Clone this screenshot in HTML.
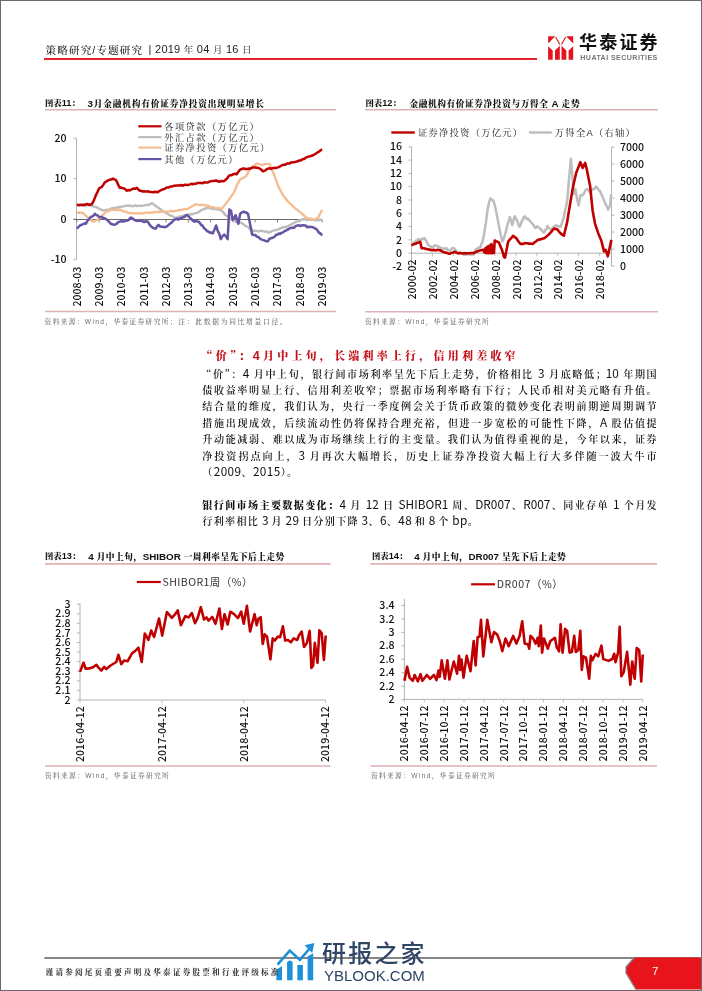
<!DOCTYPE html>
<html><head><meta charset="utf-8">
<style>
*{margin:0;padding:0;box-sizing:border-box}
html,body{width:702px;height:991px;overflow:hidden;background:#fff}
#pg{position:relative;width:702px;height:991px;background:#fff;overflow:hidden}
#bd{position:absolute;left:0;top:0;width:702px;height:991px;border-top:1px solid #6a6a6a;border-left:1.2px solid #6a6a6a;border-right:1.3px solid #6a6a6a;border-bottom:1.4px solid #6a6a6a;z-index:5;pointer-events:none}
svg{position:absolute;left:0;top:0}
.ax{font-family:'Noto Sans CJK SC',sans-serif;font-size:10.6px;font-weight:500;fill:#111}
.axx{font-family:'Noto Sans CJK SC',sans-serif;font-size:10.6px;font-weight:500;fill:#111}
.lg{font-family:'Liberation Sans','Noto Serif CJK SC',serif;font-size:9.3px;fill:#1a1a1a;letter-spacing:1.35px}
.lg2{font-family:'Noto Sans CJK SC',sans-serif;font-size:10.6px;fill:#333}
.t{position:absolute;white-space:nowrap;line-height:1}
.ct{position:absolute;white-space:nowrap;line-height:1;font-family:'Liberation Sans','Noto Serif CJK SC',serif;font-weight:900;font-size:8.4px;color:#111}
.cn{font-family:'Liberation Sans',sans-serif;font-size:9.2px;font-weight:bold}
.cl{font-family:'Liberation Sans',sans-serif;font-size:9.8px;font-weight:bold}
.cj{position:absolute;white-space:nowrap;line-height:1;font-family:'Liberation Sans','Noto Serif CJK SC',serif;font-weight:900;font-size:8.7px;color:#111;text-align:justify;text-align-last:justify}
.src{position:absolute;white-space:nowrap;line-height:1;font-family:'Liberation Sans','Noto Serif CJK SC',serif;font-size:6.7px;font-weight:500;color:#6e6e6e;letter-spacing:1.35px}
.bl{position:absolute;left:202.3px;width:454.4px;height:16px;white-space:nowrap;font-family:'Liberation Sans','Noto Serif CJK SC',serif;font-size:10.1px;line-height:16px;color:#111;font-weight:600;text-align:justify;text-align-last:justify}
.bl.last{text-align-last:left;letter-spacing:1.3px;word-spacing:-1.5px}
.bl.last .n{letter-spacing:0.4px}
.bl .n{line-height:10px;font-size:11.8px;font-family:'Noto Sans CJK SC',sans-serif;font-weight:400 !important}
.bl b{font-weight:900}
.q{font-family:'Noto Serif CJK SC',serif;font-feature-settings:'halt'}
.bl .n{font-weight:normal}
</style></head><body><div id="pg">
<svg width="702" height="991" viewBox="0 0 702 991">
<line x1="44" y1="59" x2="537" y2="59" stroke="#e3262b" stroke-width="1.8"/>
<g fill="#e4141c">
<path d="M548.1,36.2 L555.2,36.2 L548.1,43.6 Z"/>
<path d="M548.1,46.2 L552.7,50.4 L552.7,59.7 L548.1,59.7 Z"/>
<path d="M555,50.4 L559.8,45.8 L559.8,59.7 L555,59.7 Z"/>
<path d="M573.2,36.2 L566.1,36.2 L573.2,43.6 Z"/>
<path d="M573.2,46.2 L568.6,50.4 L568.6,59.7 L573.2,59.7 Z"/>
<path d="M566.3,50.4 L561.5,45.8 L561.5,59.7 L566.3,59.7 Z"/>
</g>
<g stroke="#d01a22" stroke-width="1.1" fill="none">
<line x1="555.6" y1="37" x2="559.8" y2="44.6"/>
<line x1="565.7" y1="37" x2="561.5" y2="44.6"/>
</g>
<line x1="45" y1="109.7" x2="336" y2="109.7" stroke="#dfb1b4" stroke-width="1.6"/>
<line x1="365" y1="109.7" x2="658" y2="109.7" stroke="#dfb1b4" stroke-width="1.6"/>
<line x1="45" y1="563.9" x2="330.6" y2="563.9" stroke="#dfb1b4" stroke-width="1.6"/>
<line x1="370.5" y1="563.9" x2="657" y2="563.9" stroke="#dfb1b4" stroke-width="1.6"/>
<line x1="45" y1="311.5" x2="336" y2="311.5" stroke="#dfb1b4" stroke-width="1.6"/>
<line x1="365" y1="311.8" x2="658" y2="311.8" stroke="#dfb1b4" stroke-width="1.6"/>
<line x1="45" y1="766" x2="330.6" y2="766" stroke="#dfb1b4" stroke-width="1.6"/>
<line x1="370.5" y1="766" x2="657" y2="766" stroke="#dfb1b4" stroke-width="1.6"/>
<line x1="76.5" y1="138.2" x2="76.5" y2="259.6" stroke="#b3b3b3" stroke-width="1"/>
<line x1="73.5" y1="138.2" x2="76.5" y2="138.2" stroke="#b3b3b3" stroke-width="1"/>
<text x="66.5" y="141.8" text-anchor="end" class="ax">20</text>
<line x1="73.5" y1="178.6" x2="76.5" y2="178.6" stroke="#b3b3b3" stroke-width="1"/>
<text x="66.5" y="182.2" text-anchor="end" class="ax">10</text>
<line x1="73.5" y1="219.1" x2="76.5" y2="219.1" stroke="#b3b3b3" stroke-width="1"/>
<text x="66.5" y="222.7" text-anchor="end" class="ax">0</text>
<line x1="73.5" y1="259.6" x2="76.5" y2="259.6" stroke="#b3b3b3" stroke-width="1"/>
<text x="66.5" y="263.2" text-anchor="end" class="ax">-10</text>
<line x1="73.5" y1="219.5" x2="322.1" y2="219.5" stroke="#6b6b62" stroke-width="1"/>
<line x1="76.8" y1="219.5" x2="76.8" y2="222.5" stroke="#6b6b62" stroke-width="0.8"/>
<text transform="translate(80.6,266.6) rotate(-90)" text-anchor="end" class="axx">2008-03</text>
<line x1="99.1" y1="219.5" x2="99.1" y2="222.5" stroke="#6b6b62" stroke-width="0.8"/>
<text transform="translate(102.9,266.6) rotate(-90)" text-anchor="end" class="axx">2009-03</text>
<line x1="121.4" y1="219.5" x2="121.4" y2="222.5" stroke="#6b6b62" stroke-width="0.8"/>
<text transform="translate(125.2,266.6) rotate(-90)" text-anchor="end" class="axx">2010-03</text>
<line x1="143.7" y1="219.5" x2="143.7" y2="222.5" stroke="#6b6b62" stroke-width="0.8"/>
<text transform="translate(147.5,266.6) rotate(-90)" text-anchor="end" class="axx">2011-03</text>
<line x1="166.0" y1="219.5" x2="166.0" y2="222.5" stroke="#6b6b62" stroke-width="0.8"/>
<text transform="translate(169.8,266.6) rotate(-90)" text-anchor="end" class="axx">2012-03</text>
<line x1="188.3" y1="219.5" x2="188.3" y2="222.5" stroke="#6b6b62" stroke-width="0.8"/>
<text transform="translate(192.1,266.6) rotate(-90)" text-anchor="end" class="axx">2013-03</text>
<line x1="210.6" y1="219.5" x2="210.6" y2="222.5" stroke="#6b6b62" stroke-width="0.8"/>
<text transform="translate(214.4,266.6) rotate(-90)" text-anchor="end" class="axx">2014-03</text>
<line x1="232.9" y1="219.5" x2="232.9" y2="222.5" stroke="#6b6b62" stroke-width="0.8"/>
<text transform="translate(236.7,266.6) rotate(-90)" text-anchor="end" class="axx">2015-03</text>
<line x1="255.2" y1="219.5" x2="255.2" y2="222.5" stroke="#6b6b62" stroke-width="0.8"/>
<text transform="translate(259.0,266.6) rotate(-90)" text-anchor="end" class="axx">2016-03</text>
<line x1="277.5" y1="219.5" x2="277.5" y2="222.5" stroke="#6b6b62" stroke-width="0.8"/>
<text transform="translate(281.3,266.6) rotate(-90)" text-anchor="end" class="axx">2017-03</text>
<line x1="299.8" y1="219.5" x2="299.8" y2="222.5" stroke="#6b6b62" stroke-width="0.8"/>
<text transform="translate(303.6,266.6) rotate(-90)" text-anchor="end" class="axx">2018-03</text>
<line x1="322.1" y1="219.5" x2="322.1" y2="222.5" stroke="#6b6b62" stroke-width="0.8"/>
<text transform="translate(325.9,266.6) rotate(-90)" text-anchor="end" class="axx">2019-03</text>
<polyline points="76.8,204.8 78.1,205.4 79.4,205.5 80.7,204.4 82.0,204.5 83.3,205.5 84.7,205.4 86.0,205.4 87.3,205.0 88.6,205.5 89.9,205.4 91.6,206.0 93.2,206.4 94.9,206.8 96.3,207.0 97.7,207.9 99.1,208.5 100.5,209.5 101.9,209.8 103.4,210.4 104.9,210.3 106.4,209.9 107.9,209.8 109.2,209.4 110.5,208.9 111.9,208.2 113.2,207.9 114.5,208.1 115.8,207.6 117.2,207.3 118.5,207.6 119.8,206.8 121.2,206.7 122.7,206.6 124.1,206.1 125.5,205.7 126.9,205.9 128.4,205.5 129.8,205.8 131.2,205.8 132.6,206.3 134.0,205.9 135.4,205.3 136.8,206.1 138.2,205.9 139.6,205.8 141.0,206.0 142.4,205.8 143.8,205.4 145.3,205.4 146.8,204.6 148.2,205.0 149.7,204.6 151.2,203.3 152.7,203.4 154.1,204.8 155.5,205.8 156.9,206.6 158.3,207.8 159.7,208.8 161.0,209.6 162.4,211.0 163.7,211.3 165.0,212.5 166.4,212.8 167.7,213.8 169.0,214.9 170.4,215.6 171.7,215.8 173.0,216.5 174.4,217.6 175.7,217.8 177.0,217.7 178.3,217.1 179.7,216.5 181.0,216.3 182.3,216.4 183.6,215.4 185.0,216.0 186.3,214.9 187.6,214.8 188.9,215.0 190.2,214.0 191.5,214.5 192.9,214.0 194.2,213.4 195.5,213.2 196.8,212.9 198.1,212.4 199.4,211.5 200.7,210.5 202.1,209.6 203.4,209.3 204.7,209.0 206.0,207.8 207.4,208.1 208.7,207.5 210.1,208.5 211.4,208.6 212.8,208.4 214.1,209.2 215.5,208.6 216.8,209.5 218.1,209.0 219.5,210.0 220.8,210.1 222.2,211.3 223.7,212.6 225.1,214.8 226.5,215.8 227.9,216.3 229.2,217.9 230.6,219.3 231.9,219.6 233.3,220.9 234.7,220.9 236.0,222.0 237.4,221.8 238.7,222.5 240.1,222.6 241.5,222.8 242.9,224.0 244.2,224.6 245.6,226.0 247.0,226.6 248.4,227.0 249.7,229.0 251.1,228.8 252.4,230.6 253.8,231.2 255.3,230.6 256.8,230.9 258.4,231.6 259.9,230.8 261.4,230.8 262.9,231.2 264.3,231.7 265.6,231.5 267.0,231.4 268.3,232.7 269.7,232.4 271.3,231.4 272.9,230.6 274.5,230.4 276.1,230.0 277.5,229.7 278.9,229.4 280.3,228.2 281.6,228.0 283.0,227.2 284.4,227.2 285.8,226.8 287.2,226.4 288.6,225.7 290.0,225.2 291.3,224.3 292.7,223.7 294.1,222.8 295.5,221.9 297.1,221.3 298.7,220.4 300.3,220.3 301.9,219.5 303.2,219.3 304.6,219.1 305.9,219.6 307.3,220.2 308.6,219.3 310.0,219.9 311.3,219.7 312.7,219.9 314.0,219.6 315.4,220.6 316.7,219.8 318.1,220.3 319.4,220.1 320.8,219.7 322.1,220.3" fill="none" stroke="#bdbdbd" stroke-width="2.4" stroke-linejoin="round"/>
<polyline points="76.8,212.8 78.3,212.6 79.8,212.8 81.4,212.7 82.9,212.8 84.4,214.4 85.9,215.8 87.2,217.2 88.6,218.1 89.9,219.7 91.4,220.4 92.9,221.7 94.4,221.4 95.9,220.7 97.2,219.6 98.6,218.6 99.9,217.8 101.4,216.6 102.9,214.8 104.4,213.5 105.9,211.8 107.4,211.3 108.9,210.9 110.4,210.1 111.9,209.8 113.2,209.9 114.5,210.1 115.8,209.8 117.2,210.0 118.5,209.9 119.8,209.8 121.1,210.0 122.5,211.0 123.8,211.4 125.1,211.7 126.5,212.0 127.8,212.8 129.1,213.1 130.5,212.9 131.8,213.2 133.1,213.3 134.5,213.3 135.8,213.5 137.1,213.2 138.5,213.5 139.8,213.4 141.1,213.3 142.5,213.5 143.8,213.3 145.1,212.7 146.4,212.6 147.8,212.6 149.1,213.0 150.4,212.5 151.7,212.5 153.1,212.2 154.4,212.2 155.7,212.0 157.0,211.9 158.4,212.0 159.7,211.8 161.0,211.8 162.4,211.9 163.7,211.7 165.0,211.8 166.4,211.6 167.7,211.6 169.0,211.3 170.4,210.9 171.7,211.3 173.0,211.3 174.4,211.2 175.7,210.8 177.0,210.6 178.3,210.5 179.7,209.9 181.0,210.1 182.3,209.7 183.6,209.3 185.0,208.9 186.3,209.3 187.6,208.8 188.9,208.4 190.3,207.0 191.6,206.8 193.0,205.8 194.3,204.9 195.7,204.4 197.1,204.4 198.5,204.9 200.0,205.1 201.4,204.6 202.8,205.2 204.2,204.9 205.7,205.5 207.1,205.5 208.5,205.8 209.9,206.6 211.4,207.1 212.8,207.2 214.3,207.5 215.8,208.1 217.4,207.9 218.9,208.0 220.4,208.7 221.9,208.9 223.3,206.7 224.8,205.0 226.2,203.3 227.6,201.5 229.0,199.6 230.4,197.3 231.9,195.3 233.3,193.6 234.8,190.4 236.4,186.6 237.9,183.3 240.1,179.3 241.5,178.9 242.9,178.2 244.4,177.1 245.8,176.5 247.6,173.3 249.3,170.2 250.8,168.7 252.3,167.2 253.8,165.6 255.5,164.6 257.2,163.4 258.7,164.0 260.3,164.6 261.8,165.1 263.5,164.8 265.2,163.9 266.7,163.9 268.2,163.9 269.7,163.9 271.3,168.1 272.9,171.9 274.5,176.0 276.1,180.4 277.7,184.8 279.3,188.4 281.0,191.3 282.6,194.5 284.2,196.7 285.8,198.5 287.4,201.0 288.7,202.2 290.0,203.6 291.3,204.5 292.6,206.2 293.9,207.4 295.5,208.7 297.1,209.5 298.7,211.2 300.3,212.3 301.6,213.4 302.9,214.7 304.2,215.6 305.5,216.9 306.8,217.9 308.4,218.5 310.0,218.4 311.6,218.8 313.2,219.5 314.8,219.1 316.5,218.8 318.1,217.9 319.4,215.0 320.8,212.5 322.1,209.8" fill="none" stroke="#f5bd92" stroke-width="2.4" stroke-linejoin="round"/>
<polyline points="76.8,228.7 78.5,226.9 80.2,225.3 81.9,224.7 83.2,224.2 84.6,223.4 85.9,223.7 87.6,220.6 89.2,218.9 90.9,216.8 92.2,216.6 93.6,215.3 94.9,213.8 96.2,215.3 97.6,215.3 98.9,216.8 100.2,217.2 101.6,217.1 102.9,217.8 104.4,218.2 105.9,219.0 107.4,220.2 108.9,221.7 110.5,223.5 112.2,224.3 113.8,224.7 115.3,224.5 116.8,223.7 118.3,221.9 119.8,221.7 121.3,221.1 122.8,221.4 124.3,221.4 125.8,220.7 127.3,220.6 128.8,219.9 130.3,217.8 131.8,217.8 133.8,219.4 135.7,220.6 137.1,220.9 138.4,220.7 139.8,220.7 141.3,220.6 142.7,221.6 144.2,222.1 146.0,221.2 147.8,221.7 149.5,224.5 151.1,226.4 152.8,227.8 154.2,228.3 155.7,228.7 157.1,226.4 158.5,224.9 160.1,226.5 161.7,226.7 163.0,226.7 164.3,227.2 165.7,227.0 167.0,226.3 168.4,225.1 169.9,223.8 171.3,222.9 172.7,221.4 174.2,219.8 175.6,219.2 177.1,218.7 178.6,219.6 180.2,218.1 181.7,218.8 183.0,217.0 184.3,217.1 185.7,215.5 187.0,214.9 188.4,216.4 189.8,217.7 191.3,218.9 192.7,220.6 194.3,221.8 195.9,220.8 197.5,221.5 199.1,222.0 201.2,224.9 202.7,225.9 204.1,228.3 205.6,229.2 207.1,231.2 208.5,231.5 209.9,232.7 211.4,232.5 212.8,233.4 214.5,229.6 216.2,225.5 217.7,230.8 219.3,233.8 220.8,239.1 222.5,236.1 224.2,234.6 225.9,236.4 227.6,239.1 229.3,209.5 231.0,210.7 232.7,219.8 234.1,218.0 235.6,215.2 237.0,219.7 238.4,223.8 240.1,214.0 241.8,212.4 243.6,211.8 245.1,212.2 246.6,212.7 248.1,214.0 250.4,225.5 252.1,234.6 253.7,235.1 255.2,234.9 256.8,236.7 258.4,236.9 259.8,238.5 261.2,239.4 262.7,239.9 264.1,240.3 266.5,241.3 268.0,241.2 269.5,238.6 271.0,238.2 272.5,237.7 274.3,237.1 276.1,234.8 277.5,234.7 278.9,233.5 280.3,233.9 281.6,232.7 283.0,232.5 284.4,231.0 285.8,230.8 287.1,229.6 288.4,229.4 289.7,228.2 291.0,228.0 292.3,227.6 293.7,228.1 295.0,226.6 296.4,225.7 297.8,225.4 299.2,225.3 300.5,226.1 301.9,225.2 303.2,225.3 304.5,225.5 305.8,225.4 307.1,227.3 308.4,226.8 310.0,227.1 311.6,227.1 313.2,227.2 314.8,228.4 316.3,229.0 317.7,230.7 319.2,233.0 320.6,233.5 322.1,235.6" fill="none" stroke="#6753a3" stroke-width="2.5" stroke-linejoin="round"/>
<polyline points="76.8,204.8 78.2,204.9 79.5,204.9 80.9,204.9 82.3,205.0 83.7,204.7 85.0,204.9 86.4,204.0 87.8,204.3 89.2,204.7 90.5,204.4 91.9,204.2 93.4,201.4 94.9,197.8 96.2,194.5 97.6,191.8 98.9,188.8 100.4,187.6 101.9,186.8 103.4,184.6 104.9,182.3 106.2,181.7 107.6,180.6 108.9,180.1 110.2,179.6 111.6,179.5 112.9,178.5 114.3,179.4 115.8,179.9 117.1,182.2 118.5,185.4 119.8,187.8 121.1,187.6 122.5,188.2 123.8,188.2 125.3,189.2 126.8,190.8 128.1,190.0 129.5,190.5 130.8,189.8 132.3,189.0 133.8,188.5 135.3,188.7 136.8,187.8 138.3,189.6 139.8,190.8 141.3,190.8 142.8,191.5 144.3,191.3 145.8,191.4 147.1,191.6 148.4,191.3 149.8,192.1 151.1,191.9 152.4,192.3 153.7,192.3 155.1,191.8 156.4,192.0 157.7,192.2 159.0,191.2 160.4,190.5 161.7,189.8 163.0,189.4 164.4,189.0 165.7,188.2 167.0,187.4 168.4,187.6 169.7,186.9 171.0,186.4 172.4,186.5 173.7,185.8 175.1,185.7 176.6,185.5 178.0,185.5 179.4,185.6 180.8,185.0 182.3,185.7 183.7,185.2 185.3,184.6 186.8,185.0 188.4,184.9 190.0,184.4 191.4,183.8 192.8,184.3 194.3,183.8 195.7,183.8 197.1,183.1 198.6,183.0 200.0,183.0 201.4,183.1 202.8,183.2 204.2,182.3 205.7,182.5 207.1,182.4 208.5,182.2 210.0,181.4 211.4,181.1 212.8,181.0 214.5,180.8 216.2,180.5 218.5,181.6 219.9,181.7 221.3,180.9 222.8,181.4 224.2,181.0 225.6,179.8 227.1,178.5 228.5,176.3 229.9,175.3 231.6,175.2 233.3,174.2 235.0,173.8 236.7,174.2 238.4,171.8 240.1,169.6 241.8,169.0 243.6,168.3 245.3,169.1 247.0,169.1 248.4,168.6 249.7,168.8 251.1,168.1 252.4,167.6 253.8,167.4 255.2,167.5 256.6,167.7 258.1,167.8 259.5,168.5 261.2,169.6 262.9,171.3 264.2,170.8 265.5,170.4 266.8,169.0 268.1,168.7 269.4,168.2 270.8,168.9 272.1,168.3 273.4,168.1 274.8,167.8 276.1,167.9 277.5,167.5 278.8,167.1 280.1,166.3 281.5,165.7 282.9,164.8 284.2,164.7 285.6,164.7 286.9,163.5 288.2,163.5 289.6,163.4 290.9,162.4 292.3,162.3 293.6,162.2 295.0,162.1 296.3,161.6 297.6,161.4 299.0,160.5 300.3,160.6 301.6,159.9 303.0,159.0 304.4,158.9 305.7,157.7 307.0,157.2 308.4,156.6 310.0,156.4 311.6,155.7 313.2,155.2 314.8,154.2 316.3,153.2 317.7,152.3 319.2,151.5 320.6,150.3 322.1,149.4" fill="none" stroke="#c00000" stroke-width="2.5" stroke-linejoin="round"/>
<line x1="138.3" y1="126.3" x2="161.5" y2="126.3" stroke="#c00000" stroke-width="2.2"/>
<text x="164.3" y="129.9" class="lg">各项贷款（万亿元）</text>
<line x1="138.3" y1="137.1" x2="161.5" y2="137.1" stroke="#bdbdbd" stroke-width="2.2"/>
<text x="164.3" y="140.7" class="lg">外汇占款（万亿元）</text>
<line x1="138.3" y1="147.6" x2="161.5" y2="147.6" stroke="#f5bd92" stroke-width="2.2"/>
<text x="164.3" y="151.2" class="lg">证券净投资（万亿元）</text>
<line x1="138.3" y1="159.1" x2="161.5" y2="159.1" stroke="#6753a3" stroke-width="2.2"/>
<text x="164.3" y="162.7" class="lg">其他（万亿元）</text>
<line x1="411.5" y1="146.8" x2="411.5" y2="266.5" stroke="#b3b3b3" stroke-width="1"/>
<line x1="408.5" y1="146.8" x2="411.5" y2="146.8" stroke="#b3b3b3" stroke-width="1"/>
<text x="402" y="150.4" text-anchor="end" class="ax">16</text>
<line x1="408.5" y1="160.1" x2="411.5" y2="160.1" stroke="#b3b3b3" stroke-width="1"/>
<text x="402" y="163.7" text-anchor="end" class="ax">14</text>
<line x1="408.5" y1="173.4" x2="411.5" y2="173.4" stroke="#b3b3b3" stroke-width="1"/>
<text x="402" y="177.0" text-anchor="end" class="ax">12</text>
<line x1="408.5" y1="186.7" x2="411.5" y2="186.7" stroke="#b3b3b3" stroke-width="1"/>
<text x="402" y="190.3" text-anchor="end" class="ax">10</text>
<line x1="408.5" y1="200.0" x2="411.5" y2="200.0" stroke="#b3b3b3" stroke-width="1"/>
<text x="402" y="203.6" text-anchor="end" class="ax">8</text>
<line x1="408.5" y1="213.3" x2="411.5" y2="213.3" stroke="#b3b3b3" stroke-width="1"/>
<text x="402" y="216.9" text-anchor="end" class="ax">6</text>
<line x1="408.5" y1="226.6" x2="411.5" y2="226.6" stroke="#b3b3b3" stroke-width="1"/>
<text x="402" y="230.2" text-anchor="end" class="ax">4</text>
<line x1="408.5" y1="239.9" x2="411.5" y2="239.9" stroke="#b3b3b3" stroke-width="1"/>
<text x="402" y="243.5" text-anchor="end" class="ax">2</text>
<line x1="408.5" y1="253.2" x2="411.5" y2="253.2" stroke="#b3b3b3" stroke-width="1"/>
<text x="402" y="256.8" text-anchor="end" class="ax">0</text>
<line x1="408.5" y1="266.5" x2="411.5" y2="266.5" stroke="#b3b3b3" stroke-width="1"/>
<text x="402" y="270.1" text-anchor="end" class="ax">-2</text>
<line x1="611.5" y1="147.1" x2="611.5" y2="266.1" stroke="#b3b3b3" stroke-width="1"/>
<line x1="611.5" y1="147.1" x2="614.5" y2="147.1" stroke="#b3b3b3" stroke-width="1"/>
<text x="620" y="150.7" text-anchor="start" class="ax">7000</text>
<line x1="611.5" y1="164.1" x2="614.5" y2="164.1" stroke="#b3b3b3" stroke-width="1"/>
<text x="620" y="167.7" text-anchor="start" class="ax">6000</text>
<line x1="611.5" y1="181.1" x2="614.5" y2="181.1" stroke="#b3b3b3" stroke-width="1"/>
<text x="620" y="184.7" text-anchor="start" class="ax">5000</text>
<line x1="611.5" y1="198.1" x2="614.5" y2="198.1" stroke="#b3b3b3" stroke-width="1"/>
<text x="620" y="201.7" text-anchor="start" class="ax">4000</text>
<line x1="611.5" y1="215.1" x2="614.5" y2="215.1" stroke="#b3b3b3" stroke-width="1"/>
<text x="620" y="218.7" text-anchor="start" class="ax">3000</text>
<line x1="611.5" y1="232.1" x2="614.5" y2="232.1" stroke="#b3b3b3" stroke-width="1"/>
<text x="620" y="235.7" text-anchor="start" class="ax">2000</text>
<line x1="611.5" y1="249.1" x2="614.5" y2="249.1" stroke="#b3b3b3" stroke-width="1"/>
<text x="620" y="252.7" text-anchor="start" class="ax">1000</text>
<line x1="611.5" y1="266.1" x2="614.5" y2="266.1" stroke="#b3b3b3" stroke-width="1"/>
<text x="620" y="269.7" text-anchor="start" class="ax">0</text>
<line x1="411.5" y1="253.2" x2="611.5" y2="253.2" stroke="#b3b3b3" stroke-width="1"/>
<line x1="411.5" y1="253.2" x2="411.5" y2="256.2" stroke="#b3b3b3" stroke-width="0.8"/>
<text transform="translate(416.2,259.4) rotate(-90)" text-anchor="end" class="axx">2000-02</text>
<line x1="432.4" y1="253.2" x2="432.4" y2="256.2" stroke="#b3b3b3" stroke-width="0.8"/>
<text transform="translate(437.1,259.4) rotate(-90)" text-anchor="end" class="axx">2002-02</text>
<line x1="453.3" y1="253.2" x2="453.3" y2="256.2" stroke="#b3b3b3" stroke-width="0.8"/>
<text transform="translate(458.0,259.4) rotate(-90)" text-anchor="end" class="axx">2004-02</text>
<line x1="474.1" y1="253.2" x2="474.1" y2="256.2" stroke="#b3b3b3" stroke-width="0.8"/>
<text transform="translate(478.8,259.4) rotate(-90)" text-anchor="end" class="axx">2006-02</text>
<line x1="495.0" y1="253.2" x2="495.0" y2="256.2" stroke="#b3b3b3" stroke-width="0.8"/>
<text transform="translate(499.7,259.4) rotate(-90)" text-anchor="end" class="axx">2008-02</text>
<line x1="515.9" y1="253.2" x2="515.9" y2="256.2" stroke="#b3b3b3" stroke-width="0.8"/>
<text transform="translate(520.6,259.4) rotate(-90)" text-anchor="end" class="axx">2010-02</text>
<line x1="536.8" y1="253.2" x2="536.8" y2="256.2" stroke="#b3b3b3" stroke-width="0.8"/>
<text transform="translate(541.5,259.4) rotate(-90)" text-anchor="end" class="axx">2012-02</text>
<line x1="557.7" y1="253.2" x2="557.7" y2="256.2" stroke="#b3b3b3" stroke-width="0.8"/>
<text transform="translate(562.4,259.4) rotate(-90)" text-anchor="end" class="axx">2014-02</text>
<line x1="578.5" y1="253.2" x2="578.5" y2="256.2" stroke="#b3b3b3" stroke-width="0.8"/>
<text transform="translate(583.2,259.4) rotate(-90)" text-anchor="end" class="axx">2016-02</text>
<line x1="599.4" y1="253.2" x2="599.4" y2="256.2" stroke="#b3b3b3" stroke-width="0.8"/>
<text transform="translate(604.1,259.4) rotate(-90)" text-anchor="end" class="axx">2018-02</text>
<polyline points="411.5,243.9 412.7,243.8 413.9,243.1 415.0,241.8 416.2,240.6 417.4,240.4 418.4,239.1 419.4,240.1 420.4,239.4 421.5,239.7 422.5,238.6 423.5,239.1 424.5,238.2 425.9,240.2 427.3,243.2 428.4,244.9 429.4,245.8 430.4,246.2 431.5,247.4 432.6,247.0 433.6,246.7 434.7,245.2 435.8,245.3 436.9,246.0 438.0,247.0 439.2,246.5 440.3,248.1 441.4,248.1 442.5,248.6 443.5,249.1 444.6,248.3 445.7,248.8 446.8,248.3 447.8,250.1 448.8,250.5 449.9,250.2 451.1,249.4 452.2,248.0 453.4,248.1 454.5,248.6 455.5,250.6 456.6,251.1 457.7,252.6 458.7,253.7 459.7,253.2 460.7,252.6 461.8,253.7 462.8,253.3 463.8,254.7 464.8,254.0 465.9,254.8 466.9,254.0 468.0,254.3 469.1,254.4 470.2,254.6 471.2,255.0 472.3,253.1 473.4,254.0 474.8,251.2 476.2,249.0 477.3,248.7 478.4,247.6 479.4,247.6 480.5,246.9 481.5,243.6 482.5,242.0 484.1,234.1 486.0,222.0 487.5,210.0 489.0,203.0 490.5,198.5 492.0,199.5 493.5,201.0 495.0,206.0 496.5,213.0 498.0,221.0 499.5,229.0 501.0,236.0 502.5,241.5 503.5,239.5 504.5,236.0 505.6,232.3 506.6,228.5 507.7,223.9 508.7,221.2 509.8,217.0 511.0,220.7 512.3,225.2 513.5,220.1 514.7,216.2 515.7,218.3 516.7,219.7 517.7,222.0 518.7,225.4 519.7,226.8 520.7,224.7 521.8,220.9 522.8,220.0 523.8,217.0 524.8,216.4 525.8,217.5 526.9,219.0 527.9,218.6 529.0,220.2 530.1,220.9 531.1,222.5 532.2,223.8 533.3,224.7 534.4,226.8 535.6,228.0 536.8,226.3 538.1,227.2 539.3,227.6 540.5,229.3 541.8,229.9 543.0,232.3 544.2,232.6 545.3,229.9 546.4,229.2 547.5,226.0 548.6,227.9 549.7,228.5 550.8,229.3 552.0,229.1 553.2,227.1 554.5,226.9 555.7,225.2 556.9,226.2 558.2,226.0 559.4,226.3 560.6,226.8 561.7,223.9 562.8,220.1 563.9,217.0 565.0,210.7 566.1,206.6 567.2,200.6 568.4,186.2 569.6,172.8 570.9,158.8 572.1,172.8 573.7,194.1 575.4,189.1 577.0,199.0 578.6,205.5 580.3,195.7 581.4,195.1 582.5,195.2 583.6,194.1 584.7,191.8 585.7,189.8 586.8,189.1 587.9,189.4 589.0,191.5 590.1,192.4 591.2,191.0 592.4,189.6 593.5,188.9 594.7,188.7 595.8,186.7 596.8,187.2 597.8,188.6 598.9,190.5 599.9,190.8 601.1,193.9 602.3,196.1 603.6,199.4 604.8,202.3 605.9,204.7 607.0,206.5 608.1,209.6 609.1,207.3 610.1,205.5 611.1,194.1" fill="none" stroke="#bdbdbd" stroke-width="2.5" stroke-linejoin="round"/>
<polyline points="411.5,245.3 412.9,244.6 414.4,243.9 415.9,243.7 417.3,242.7 418.8,242.4 420.2,241.8 421.6,248.1 423.0,248.3 424.4,248.4 425.8,249.0 427.3,249.0 428.7,249.6 430.1,249.6 431.5,250.2 432.9,249.9 434.3,250.1 435.8,250.4 437.2,249.9 438.6,250.0 440.0,250.2 441.4,251.0 442.8,251.7 444.2,252.4 445.6,252.6 447.1,252.9 448.5,253.7 449.9,253.8 451.3,252.8 452.8,252.7 454.2,251.7 455.9,252.4 457.7,253.3 459.0,253.1 460.3,253.0 461.6,253.2 462.9,253.5 464.2,253.1 465.5,253.4 466.9,253.4 468.2,253.2 469.5,253.3 470.8,253.0 472.1,253.0 473.4,253.3 474.8,252.4 476.2,252.0 477.6,251.2 479.0,250.8 480.5,250.3 481.9,250.1 483.3,249.7 484.5,252.5 485.5,248.0 486.5,253.3 487.5,246.5 488.5,253.3 489.5,245.5 490.5,253.3 491.5,244.0 492.5,253.3 493.3,246.0 494.0,253.0 494.7,240.5 496.1,241.2 497.6,241.8 499.0,242.6 500.4,246.4 501.9,249.7 504.1,257.1 505.0,257.6 506.6,249.7 508.2,241.6 509.8,239.5 511.5,237.8 513.1,235.8 514.8,237.1 516.4,238.3 517.8,240.5 519.1,242.3 520.5,244.0 521.9,243.7 523.4,243.9 524.8,243.1 526.2,243.2 527.5,243.3 528.8,243.7 530.2,243.4 531.5,243.8 532.8,244.0 534.4,242.3 536.1,241.4 537.7,239.9 539.0,239.8 540.3,239.3 541.6,239.2 542.9,238.5 544.2,238.3 545.8,237.1 547.5,235.6 549.1,234.2 550.8,232.4 552.4,230.4 554.1,228.5 555.7,229.1 557.3,229.3 559.0,231.7 560.6,233.4 562.2,234.6 563.9,235.8 565.5,229.0 567.2,221.9 568.8,211.8 570.4,202.3 572.9,187.5 574.5,180.3 576.2,172.8 577.6,169.3 578.9,166.0 580.3,162.1 582.7,167.9 585.2,162.9 586.8,169.5 588.5,177.9 590.1,185.9 592.6,210.4 595.0,223.6 596.6,228.3 598.3,233.4 600.0,237.4 601.6,241.6 604.0,251.4 605.7,249.8 607.8,256.3 609.6,248.2 611.4,239.9" fill="none" stroke="#c00000" stroke-width="2.6" stroke-linejoin="round"/>
<line x1="391.3" y1="132.5" x2="414.8" y2="132.5" stroke="#c00000" stroke-width="2.4"/>
<text x="417.9" y="136.3" class="lg" style="letter-spacing:1.25px">证券净投资（万亿元）</text>
<line x1="528.9" y1="132.5" x2="551.8" y2="132.5" stroke="#bdbdbd" stroke-width="2.4"/>
<text x="554.8" y="136.3" class="lg" style="letter-spacing:1.25px">万得全A（右轴）</text>
<line x1="80" y1="603.2" x2="80" y2="699.9" stroke="#b3b3b3" stroke-width="1"/>
<line x1="77" y1="604.2" x2="80" y2="604.2" stroke="#b3b3b3" stroke-width="1"/>
<text x="70.6" y="607.8" text-anchor="end" class="ax">3</text>
<line x1="77" y1="613.8" x2="80" y2="613.8" stroke="#b3b3b3" stroke-width="1"/>
<text x="70.6" y="617.4" text-anchor="end" class="ax">2.9</text>
<line x1="77" y1="623.3" x2="80" y2="623.3" stroke="#b3b3b3" stroke-width="1"/>
<text x="70.6" y="626.9" text-anchor="end" class="ax">2.8</text>
<line x1="77" y1="632.9" x2="80" y2="632.9" stroke="#b3b3b3" stroke-width="1"/>
<text x="70.6" y="636.5" text-anchor="end" class="ax">2.7</text>
<line x1="77" y1="642.5" x2="80" y2="642.5" stroke="#b3b3b3" stroke-width="1"/>
<text x="70.6" y="646.1" text-anchor="end" class="ax">2.6</text>
<line x1="77" y1="652.1" x2="80" y2="652.1" stroke="#b3b3b3" stroke-width="1"/>
<text x="70.6" y="655.7" text-anchor="end" class="ax">2.5</text>
<line x1="77" y1="661.6" x2="80" y2="661.6" stroke="#b3b3b3" stroke-width="1"/>
<text x="70.6" y="665.2" text-anchor="end" class="ax">2.4</text>
<line x1="77" y1="671.2" x2="80" y2="671.2" stroke="#b3b3b3" stroke-width="1"/>
<text x="70.6" y="674.8" text-anchor="end" class="ax">2.3</text>
<line x1="77" y1="680.8" x2="80" y2="680.8" stroke="#b3b3b3" stroke-width="1"/>
<text x="70.6" y="684.4" text-anchor="end" class="ax">2.2</text>
<line x1="77" y1="690.3" x2="80" y2="690.3" stroke="#b3b3b3" stroke-width="1"/>
<text x="70.6" y="693.9" text-anchor="end" class="ax">2.1</text>
<line x1="77" y1="699.9" x2="80" y2="699.9" stroke="#b3b3b3" stroke-width="1"/>
<text x="70.6" y="703.5" text-anchor="end" class="ax">2</text>
<line x1="80" y1="700.0" x2="325.5" y2="700.0" stroke="#b3b3b3" stroke-width="1"/>
<line x1="80.0" y1="700.0" x2="80.0" y2="703.0" stroke="#b3b3b3" stroke-width="0.8"/>
<text transform="translate(83.8,706.1) rotate(-90)" text-anchor="end" class="axx">2016-04-12</text>
<line x1="161.8" y1="700.0" x2="161.8" y2="703.0" stroke="#b3b3b3" stroke-width="0.8"/>
<text transform="translate(165.6,706.1) rotate(-90)" text-anchor="end" class="axx">2017-04-12</text>
<line x1="243.7" y1="700.0" x2="243.7" y2="703.0" stroke="#b3b3b3" stroke-width="0.8"/>
<text transform="translate(247.5,706.1) rotate(-90)" text-anchor="end" class="axx">2018-04-12</text>
<line x1="325.5" y1="700.0" x2="325.5" y2="703.0" stroke="#b3b3b3" stroke-width="0.8"/>
<text transform="translate(329.3,706.1) rotate(-90)" text-anchor="end" class="axx">2019-04-12</text>
<polyline points="80.0,671.9 83.5,662.7 85.7,668.8 89.2,668.4 93.5,666.9 96.4,664.8 98.5,667.6 101.4,670.5 104.2,666.9 106.3,669.1 110.6,665.5 116.3,662.0 118.4,654.8 121.3,664.1 124.1,660.5 127.7,661.2 132.0,653.4 134.8,651.3 138.4,647.7 141.7,662.0 144.8,633.5 148.4,639.9 151.2,630.6 154.1,637.0 159.0,618.5 162.2,635.6 166.9,612.1 171.9,617.8 174.5,614.9 177.7,610.4 180.9,625.1 185.4,616.2 188.6,617.4 191.8,613.0 195.0,623.2 197.6,618.1 200.8,607.2 204.0,619.4 206.5,617.4 208.5,620.6 212.3,616.8 215.5,623.8 219.4,608.5 221.9,629.0 224.5,614.2 227.7,624.5 230.3,611.7 234.1,614.2 237.9,618.1 241.2,611.7 243.7,623.8 246.9,605.9 250.1,631.5 254.6,614.2 256.7,625.2 258.4,618.9 260.7,617.2 262.7,644.0 264.7,634.3 267.0,636.6 270.4,659.4 272.7,638.3 274.9,640.6 277.8,636.6 280.1,637.2 282.9,626.3 285.2,640.6 288.0,640.0 290.9,642.3 293.7,638.3 297.2,640.0 298.9,635.5 301.7,631.5 304.0,646.9 306.9,642.9 309.7,630.9 311.4,667.9 313.1,665.7 314.8,642.9 317.5,662.8 319.4,630.3 321.7,633.2 323.9,660.0 325.7,635.5" fill="none" stroke="#c00000" stroke-width="2.6" stroke-linejoin="round"/>
<line x1="136.8" y1="582" x2="160.8" y2="582" stroke="#c00000" stroke-width="2.2"/>
<text x="162.5" y="585.8" class="lg2" style="letter-spacing:0.4px">SHIBOR1周（%）</text>
<line x1="404.4" y1="598.8" x2="404.4" y2="699.6" stroke="#b3b3b3" stroke-width="1"/>
<line x1="401.4" y1="605.5" x2="404.4" y2="605.5" stroke="#b3b3b3" stroke-width="1"/>
<text x="394.6" y="609.1" text-anchor="end" class="ax">3.4</text>
<line x1="401.4" y1="618.9" x2="404.4" y2="618.9" stroke="#b3b3b3" stroke-width="1"/>
<text x="394.6" y="622.5" text-anchor="end" class="ax">3.2</text>
<line x1="401.4" y1="632.4" x2="404.4" y2="632.4" stroke="#b3b3b3" stroke-width="1"/>
<text x="394.6" y="636.0" text-anchor="end" class="ax">3</text>
<line x1="401.4" y1="645.8" x2="404.4" y2="645.8" stroke="#b3b3b3" stroke-width="1"/>
<text x="394.6" y="649.4" text-anchor="end" class="ax">2.8</text>
<line x1="401.4" y1="659.3" x2="404.4" y2="659.3" stroke="#b3b3b3" stroke-width="1"/>
<text x="394.6" y="662.9" text-anchor="end" class="ax">2.6</text>
<line x1="401.4" y1="672.7" x2="404.4" y2="672.7" stroke="#b3b3b3" stroke-width="1"/>
<text x="394.6" y="676.3" text-anchor="end" class="ax">2.4</text>
<line x1="401.4" y1="686.1" x2="404.4" y2="686.1" stroke="#b3b3b3" stroke-width="1"/>
<text x="394.6" y="689.7" text-anchor="end" class="ax">2.2</text>
<line x1="401.4" y1="699.6" x2="404.4" y2="699.6" stroke="#b3b3b3" stroke-width="1"/>
<text x="394.6" y="703.2" text-anchor="end" class="ax">2</text>
<line x1="404.4" y1="699.4" x2="642.8" y2="699.4" stroke="#b3b3b3" stroke-width="1"/>
<line x1="404.4" y1="699.4" x2="404.4" y2="702.4" stroke="#b3b3b3" stroke-width="0.8"/>
<text transform="translate(408.2,705.5) rotate(-90)" text-anchor="end" class="axx">2016-04-12</text>
<line x1="424.3" y1="699.4" x2="424.3" y2="702.4" stroke="#b3b3b3" stroke-width="0.8"/>
<text transform="translate(428.1,705.5) rotate(-90)" text-anchor="end" class="axx">2016-07-12</text>
<line x1="444.1" y1="699.4" x2="444.1" y2="702.4" stroke="#b3b3b3" stroke-width="0.8"/>
<text transform="translate(447.9,705.5) rotate(-90)" text-anchor="end" class="axx">2016-10-12</text>
<line x1="464.0" y1="699.4" x2="464.0" y2="702.4" stroke="#b3b3b3" stroke-width="0.8"/>
<text transform="translate(467.8,705.5) rotate(-90)" text-anchor="end" class="axx">2017-01-12</text>
<line x1="483.9" y1="699.4" x2="483.9" y2="702.4" stroke="#b3b3b3" stroke-width="0.8"/>
<text transform="translate(487.7,705.5) rotate(-90)" text-anchor="end" class="axx">2017-04-12</text>
<line x1="503.8" y1="699.4" x2="503.8" y2="702.4" stroke="#b3b3b3" stroke-width="0.8"/>
<text transform="translate(507.6,705.5) rotate(-90)" text-anchor="end" class="axx">2017-07-12</text>
<line x1="523.6" y1="699.4" x2="523.6" y2="702.4" stroke="#b3b3b3" stroke-width="0.8"/>
<text transform="translate(527.4,705.5) rotate(-90)" text-anchor="end" class="axx">2017-10-12</text>
<line x1="543.5" y1="699.4" x2="543.5" y2="702.4" stroke="#b3b3b3" stroke-width="0.8"/>
<text transform="translate(547.3,705.5) rotate(-90)" text-anchor="end" class="axx">2018-01-12</text>
<line x1="563.4" y1="699.4" x2="563.4" y2="702.4" stroke="#b3b3b3" stroke-width="0.8"/>
<text transform="translate(567.2,705.5) rotate(-90)" text-anchor="end" class="axx">2018-04-12</text>
<line x1="583.2" y1="699.4" x2="583.2" y2="702.4" stroke="#b3b3b3" stroke-width="0.8"/>
<text transform="translate(587.0,705.5) rotate(-90)" text-anchor="end" class="axx">2018-07-12</text>
<line x1="603.1" y1="699.4" x2="603.1" y2="702.4" stroke="#b3b3b3" stroke-width="0.8"/>
<text transform="translate(606.9,705.5) rotate(-90)" text-anchor="end" class="axx">2018-10-12</text>
<line x1="623.0" y1="699.4" x2="623.0" y2="702.4" stroke="#b3b3b3" stroke-width="0.8"/>
<text transform="translate(626.8,705.5) rotate(-90)" text-anchor="end" class="axx">2019-01-12</text>
<line x1="642.8" y1="699.4" x2="642.8" y2="702.4" stroke="#b3b3b3" stroke-width="0.8"/>
<text transform="translate(646.6,705.5) rotate(-90)" text-anchor="end" class="axx">2019-04-12</text>
<polyline points="404.5,680.8 407.1,666.7 409.6,677.6 412.8,680.8 414.7,675.0 417.9,681.4 420.5,674.1 422.4,680.8 426.9,675.0 430.1,678.8 434.0,675.0 436.5,680.1 438.5,670.5 439.7,676.9 441.7,660.3 444.9,678.8 447.4,660.3 449.4,679.5 453.8,661.5 457.1,673.7 459.0,655.8 460.3,669.9 461.5,659.6 463.5,677.6 466.7,655.8 470.5,671.2 473.7,641.0 475.6,665.4 477.6,637.2 479.5,636.5 481.0,619.9 483.3,656.4 487.3,619.9 491.4,642.3 494.0,632.1 497.2,634.6 499.7,641.0 502.3,651.3 505.5,638.5 508.7,646.2 513.2,635.9 516.4,643.6 519.6,635.9 522.2,621.2 524.7,643.6 527.9,644.2 529.2,648.7 530.5,635.9 533.1,638.5 535.6,643.6 537.6,637.8 538.8,646.2 540.8,625.6 542.1,652.6 544.0,638.5 547.8,648.7 550.4,641.0 554.9,637.8 556.8,647.4 559.1,651.3 560.6,624.4 562.6,652.6 565.1,628.8 567.1,630.8 569.6,652.6 571.9,651.9 574.2,635.9 575.8,651.9 578.3,650.0 580.3,630.8 581.8,669.9 583.5,656.4 586.0,657.7 589.2,678.8 590.8,655.8 592.4,660.3 595.6,653.8 598.2,656.4 601.4,645.5 603.3,659.0 608.5,660.9 612.3,659.0 614.2,653.8 615.5,662.2 618.1,652.6 619.7,626.9 621.3,676.3 623.8,671.8 627.1,651.9 630.3,684.6 632.2,661.5 634.7,678.8 636.7,648.1 639.2,650.0 641.2,681.4 642.8,654.5" fill="none" stroke="#c00000" stroke-width="2.6" stroke-linejoin="round"/>
<line x1="471.1" y1="584.3" x2="495" y2="584.3" stroke="#c00000" stroke-width="2.2"/>
<text x="496.8" y="588.1" class="lg2" style="letter-spacing:0.5px">DR007（%）</text>
<line x1="44.4" y1="958" x2="700" y2="958" stroke="#5e5e5e" stroke-width="1.4"/>
<path d="M634,957.6 L701,957.6 L701,989.6 L636,989.6 L626,973 L626,967 Z" fill="#e8141b"/>
<path d="M634,957.8 L626,967 L626,973 L636,989.6" fill="none" stroke="#8a8a8a" stroke-width="1.3"/>
<text x="655.3" y="975" text-anchor="middle" fill="#fff" style="font:11px 'Liberation Sans',sans-serif">7</text>
<g fill="#1e8fd8">
<path d="M276.4,980.3 L276.4,969.8 L282,966 L282,980.3 Z"/>
<path d="M287.1,980.3 L287.1,962 Q289.8,958.8 292.6,962 L292.6,980.3 Z"/>
<rect x="297.4" y="965" width="5.5" height="15.3"/>
<path d="M307.6,980.3 L307.6,956.6 L313.2,953.2 L313.2,980.3 Z"/>
<polyline points="277.5,964.6 289.8,950.6 299.9,959.9 310,948" fill="none" stroke="#1e8fd8" stroke-width="2.6" stroke-linejoin="miter"/>
<path d="M314.3,942.9 L304.6,945.3 L312.2,953 Z"/>
</g>
</svg>
<div class="t" style="left:45.6px;top:44.6px;font-family:'Liberation Sans','Noto Serif CJK SC',serif;font-size:10.6px;font-weight:500;color:#1a1a1a;letter-spacing:1.1px">策略研究/专题研究</div>
<div class="t" style="left:148.6px;top:44.3px;font-family:'Liberation Sans','Noto Serif CJK SC',serif;font-size:11px;color:#222;letter-spacing:0.25px">|&nbsp;2019 <span style="font-size:9.5px">年</span> 04 <span style="font-size:9.5px">月</span> 16 <span style="font-size:9.5px">日</span></div>
<div class="t" style="left:579px;top:31.6px;font-family:'Noto Sans CJK SC',sans-serif;font-weight:bold;font-size:18px;color:#111;letter-spacing:2.2px">华泰证券</div>
<div class="t" style="left:580.3px;top:54.8px;font-family:'Liberation Sans',sans-serif;font-weight:bold;font-size:7.1px;color:#767676;letter-spacing:0.42px">HUATAI SECURITIES</div>

<div class="ct" style="left:45px;top:99px">图表<span class="cn">11</span>：</div>
<div class="cj" style="left:87.6px;top:98.8px;width:176.4px"><span class="cl">3</span>月金融机构有价证券净投资出现明显增长</div>
<div class="ct" style="left:365.5px;top:99px">图表<span class="cn">12</span>：</div>
<div class="cj" style="left:409.4px;top:98.8px;width:170.2px">金融机构有价证券净投资与万得全 <span class="cl">A</span> 走势</div>
<div class="ct" style="left:45px;top:552.3px">图表<span class="cn">13</span>：</div>
<div class="cj" style="left:88.3px;top:552.1px;width:196px"><span class="cl">4</span> 月中上旬，<span class="cl">SHIBOR</span> 一周利率呈先下后上走势</div>
<div class="ct" style="left:372px;top:552.3px">图表<span class="cn">14</span>：</div>
<div class="cj" style="left:414.2px;top:552.1px;width:151.6px"><span class="cl">4</span> 月中上旬，<span class="cl">DR007</span> 呈先下后上走势</div>

<div class="src" style="left:44.6px;top:318.6px">资料来源：Wind，华泰证券研究所<span style="letter-spacing:1.8px">；注：此数据为同比增量口径。</span></div>
<div class="src" style="left:365px;top:318.6px">资料来源：Wind，华泰证券研究所</div>
<div class="src" style="left:45px;top:773.3px">资料来源：Wind，华泰证券研究所</div>
<div class="src" style="left:371px;top:773.3px">资料来源：Wind，华泰证券研究所</div>

<div class="t" style="left:207px;top:350.2px;width:308.6px;font-family:'Liberation Sans','Noto Serif CJK SC',serif;font-weight:900;font-size:11px;color:#c3121a;text-align:justify;text-align-last:justify"><span class="q">“</span>价<span class="q">”</span>：<span style="font-size:12.5px">4</span>月中上旬，长端利率上行，信用利差收窄</div>
<div class="bl" style="top:366.40px;"><span class="q" style="padding-left:4px">“</span>价<span class="q">”</span>：<span class="n">4</span> 月中上旬，银行间市场利率呈先下后上走势，价格相比 <span class="n">3</span> 月底略低；<span class="n">10</span> 年期国</div>
<div class="bl" style="top:382.82px;">债收益率明显上行、信用利差收窄；票据市场利率略有下行；人民币相对美元略有升值。</div>
<div class="bl" style="top:399.24px;">结合量的维度，我们认为，央行一季度例会关于货币政策的微妙变化表明前期逆周期调节</div>
<div class="bl" style="top:415.66px;">措施出现成效，后续流动性仍将保持合理充裕，但进一步宽松的可能性下降，<span class="n">A</span> 股估值提</div>
<div class="bl" style="top:432.08px;">升动能减弱、难以成为市场继续上行的主变量。我们认为值得重视的是，今年以来，证券</div>
<div class="bl" style="top:448.50px;">净投资拐点向上，<span class="n">3</span> 月再次大幅增长，历史上证券净投资大幅上行大多伴随一波大牛市</div>
<div class="bl last" style="top:464.92px;">（<span class="n">2009</span>、<span class="n">2015</span>）。</div>
<div class="bl" style="top:497.76px;"><b>银行间市场主要数据变化：</b><span class="n">4</span> 月 <span class="n">12</span> 日 <span class="n">SHIBOR1</span> 周、<span class="n">DR007</span>、<span class="n">R007</span>、同业存单 <span class="n">1</span> 个月发</div>
<div class="bl last" style="top:514.18px;">行利率相比 <span class="n">3</span> 月 <span class="n">29</span> 日分别下降 <span class="n">3</span>、<span class="n">6</span>、<span class="n">48</span> 和 <span class="n">8</span> 个 <span class="n">bp</span>。</div>

<div class="t" style="left:45.6px;top:968px;font-family:'Noto Serif CJK SC',serif;font-weight:700;font-size:7.6px;color:#2a2a2a;letter-spacing:2.2px">谨请参阅尾页重要声明及华泰证券股票和行业评级标准</div>
<div class="t" style="left:322px;top:939.8px;font-family:'Noto Sans CJK SC',sans-serif;font-weight:500;font-size:24px;color:#2f4667;letter-spacing:2.2px">研报之家</div>
<div class="t" style="left:324px;top:968px;font-family:'Liberation Sans',sans-serif;font-size:15px;color:#2d4466;letter-spacing:0px">YBLOOK.COM</div>
<div id="bd"></div>
</div></body></html>
